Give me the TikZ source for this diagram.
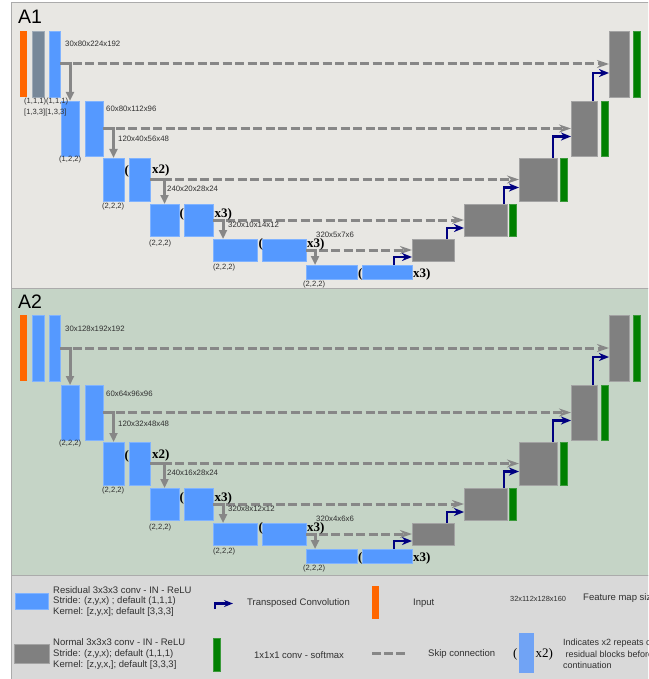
\documentclass[tikz,border=0pt]{standalone}
\usepackage{fontspec}
\setmainfont{Liberation Sans}
\newfontfamily\serifrm{Liberation Serif}
\usetikzlibrary{arrows.meta}
\definecolor{bluebk}{HTML}{5599FF}
\definecolor{bluebd}{HTML}{80B3FF}
\definecolor{bluelg}{HTML}{70A3F5}
\definecolor{orangebk}{HTML}{FF6600}
\definecolor{slatebk}{HTML}{778899}
\definecolor{graybk}{HTML}{808080}
\definecolor{graybd}{HTML}{A3A3A3}
\definecolor{greenbk}{HTML}{008000}
\definecolor{greenbd}{HTML}{3A9A3A}
\definecolor{navyarr}{HTML}{000080}
\definecolor{skipcol}{HTML}{878787}
\definecolor{panelA}{HTML}{E8E7E3}
\definecolor{panelB}{HTML}{C5D4C6}
\definecolor{panelC}{HTML}{D9D9D9}
\definecolor{panelbd}{HTML}{ABABAB}
\definecolor{txt}{HTML}{303030}
\tikzset{
  blk/.style={inner sep=0pt, outer sep=0pt, anchor=north west},
  resblk/.style={blk, fill=bluebk, draw=bluebd, line width=0.5pt},
  normblk/.style={blk, fill=graybk, draw=graybd, line width=0.5pt},
  inblk/.style={blk, fill=orangebk},
  slblk/.style={blk, fill=slatebk, draw=slatebk!70, line width=0.5pt},
  smblk/.style={blk, fill=greenbk, draw=greenbd, line width=0.5pt},
  skipline/.style={draw=skipcol, line width=3pt, dash pattern=on 9pt off 3.5pt, -{Stealth[length=12pt,width=8pt,inset=4pt,fill=skipcol!80]}},
  downarr/.style={draw=skipcol, line width=3pt, -{Triangle[length=9pt,width=8pt]}},
  tconv/.style={draw=navyarr, line width=2.6pt, -{Stealth[length=10pt,width=8pt,inset=3pt]}},
  dimlab/.style={anchor=base west, inner sep=0pt, font=\fontsize{7.8}{9}\selectfont, text=txt},
  strd/.style={anchor=base west, inner sep=0pt, font=\fontsize{7.6}{9}\selectfont, text=txt},
  rep/.style={anchor=base west, inner sep=0pt, font=\serifrm\bfseries\fontsize{13}{14}\selectfont},
  leg/.style={anchor=base west, inner sep=0pt, font=\fontsize{9.5}{10.5}\selectfont, text=txt},
  legs/.style={anchor=base west, inner sep=0pt, font=\fontsize{9}{10}\selectfont, text=txt},
  panlab/.style={anchor=base west, inner sep=0pt, font=\fontsize{19.5}{20}\selectfont},
}
\newcommand{\netbody}[3]{%
  % encoder
  \node[inblk, minimum width=7pt, minimum height=66pt] (#1in) at (20,31) {};
  \node[#2, minimum width=12pt, minimum height=66pt] (#1s0) at (32,31) {};
  \node[resblk, minimum width=11pt, minimum height=66pt] (#1e0) at (49,31) {};
  \node[resblk, minimum width=18pt, minimum height=55pt] (#1e1a) at (61,101) {};
  \node[resblk, minimum width=18pt, minimum height=55pt] (#1e1b) at (85,101) {};
  \node[resblk, minimum width=21pt, minimum height=43pt] (#1e2a) at (103,158) {};
  \node[resblk, minimum width=21pt, minimum height=43pt] (#1e2b) at (129,158) {};
  \node[resblk, minimum width=29pt, minimum height=32pt] (#1e3a) at (150,204) {};
  \node[resblk, minimum width=29pt, minimum height=32pt] (#1e3b) at (184,204) {};
  \node[resblk, minimum width=44pt, minimum height=22pt] (#1e4a) at (213,239) {};
  \node[resblk, minimum width=44pt, minimum height=22pt] (#1e4b) at (262,239) {};
  \node[resblk, minimum width=51pt, minimum height=14pt] (#1e5a) at (306,265) {};
  \node[resblk, minimum width=50pt, minimum height=14pt] (#1e5b) at (362,265) {};
  % decoder
  \node[normblk, minimum width=42pt, minimum height=22pt] (#1d5) at (412,239) {};
  \node[normblk, minimum width=43pt, minimum height=32pt] (#1d4) at (464,204) {};
  \node[smblk, minimum width=7pt, minimum height=32pt] (#1g4) at (509,204) {};
  \node[normblk, minimum width=38pt, minimum height=43pt] (#1d3) at (519,158) {};
  \node[smblk, minimum width=7pt, minimum height=43pt] (#1g3) at (560,158) {};
  \node[normblk, minimum width=26pt, minimum height=55pt] (#1d2) at (571,101) {};
  \node[smblk, minimum width=7pt, minimum height=55pt] (#1g2) at (601,101) {};
  \node[normblk, minimum width=20pt, minimum height=66pt] (#1d1) at (609,31) {};
  \node[smblk, minimum width=7pt, minimum height=66pt] (#1g1) at (633,31) {};
  % skip connections
  \draw[skipline] (#1e0.east) -- (#1d1.west);
  \draw[skipline] (#1e1b.east) -- (#1d2.west);
  \draw[skipline] (#1e2b.east) -- (#1d3.west);
  \draw[skipline] (#1e3b.east) -- (#1d4.west);
  \draw[skipline] (#1e4b.east) -- (#1d5.west);
  % down arrows
  \draw[downarr] (#1e0.east) -| (#1e1a.north);
  \draw[downarr] (#1e1b.east) -| (#1e2a.north);
  \draw[downarr] (#1e2b.east) -| (#1e3a.north);
  \draw[downarr] (#1e3b.east) -| ([xshift=10pt]#1e4a.north west);
  \draw[downarr] (#1e4b.east) -| ([xshift=9pt]#1e5a.north west);
  % transposed convolutions
  \draw[tconv] ([xshift=32pt]#1e5b.north west) |- ([yshift=-7pt]#1d5.west);
  \draw[tconv] ([xshift=35pt]#1d5.north west) |- ([yshift=-8pt]#1d4.west);
  \draw[tconv] ([xshift=40pt]#1d4.north west) |- ([yshift=-8pt]#1d3.west);
  \draw[tconv] ([xshift=34pt]#1d3.north west) |- ([yshift=-8pt]#1d2.west);
  \draw[tconv] ([xshift=22pt]#1d2.north west) |- ([yshift=-9pt]#1d1.west);
  % repeats
  \node[rep] (#1pa) at (124.5,175) {(}; \node[rep] (#1ra) at (152,174) {x2)};
  \node[rep] (#1pb) at (179.5,217) {(}; \node[rep] (#1rb) at (214.5,217) {x3)};
  \node[rep] (#1pc) at (258.5,247) {(}; \node[rep] (#1rc) at (307,247) {x3)};
  \node[rep] (#1pd) at (358,277) {(}; \node[rep] (#1rd) at (413,277) {x3)};
  % strides
  \node[strd] (#1st1) at (59,161) {#3};
  \node[strd] (#1st2) at (102,208) {(2,2,2)};
  \node[strd] (#1st3) at (149,245) {(2,2,2)};
  \node[strd] (#1st4) at (213,269) {(2,2,2)};
  \node[strd] (#1st5) at (303,286) {(2,2,2)};
}
\begin{document}
\begin{tikzpicture}[x=1pt,y=-1pt]
\useasboundingbox (0,0) rectangle (648,679);
\clip (0,0) rectangle (648,679);
\fill[white] (0,0) rectangle (648,679);
% panels
\filldraw[fill=panelA, draw=panelbd, line width=1pt] (11,3) rectangle (660,288.5);
\filldraw[fill=panelB, draw=panelbd, line width=1pt] (11,288.5) rectangle (660,575.5);
\filldraw[fill=panelC, draw=panelbd, line width=1pt] (11,575.5) rectangle (660,690);

% ---------------- A1 ----------------
\node[panlab] (labA1) at (18,24) {A1};
\netbody{a}{slblk}{(1,2,2)}
\node[dimlab] (aL0) at (65,47) {30x80x224x192};
\node[dimlab] (aL1) at (106,112) {60x80x112x96};
\node[dimlab] (aL2) at (118,142) {120x40x56x48};
\node[dimlab] (aL3) at (167,191) {240x20x28x24};
\node[dimlab] (aL4) at (228,227) {320x10x14x12};
\node[dimlab] (aL5) at (316,237) {320x5x7x6};
\node[strd] (aS1) at (24,104) {(1,1,1)(1,1,1)};
\node[strd] (aS2) at (24,115) {[1,3,3][1,3,3]};

% ---------------- A2 ----------------
\begin{scope}[yshift=-284pt]
\node[panlab] (labA2) at (18,24) {A2};
\netbody{b}{resblk}{(2,2,2)}
\node[dimlab] (bL0) at (65,47) {30x128x192x192};
\node[dimlab] (bL1) at (106,112) {60x64x96x96};
\node[dimlab] (bL2) at (118,142) {120x32x48x48};
\node[dimlab] (bL3) at (167,191) {240x16x28x24};
\node[dimlab] (bL4) at (228,227) {320x8x12x12};
\node[dimlab] (bL5) at (316,237) {320x4x6x6};
\end{scope}

% ---------------- Legend ----------------
\node[resblk, minimum width=33pt, minimum height=16pt] (lgres) at (15,593) {};
\node[leg] (lgr1) at (53,593) {Residual 3x3x3 conv - IN - ReLU};
\node[leg] (lgr2) at (53,603.5) {Stride: (z,y,x) ; default (1,1,1)};
\node[leg] (lgr3) at (53,614) {Kernel: [z,y,x]; default [3,3,3]};
\node[normblk, minimum width=35pt, minimum height=19pt] (lgnorm) at (14,644) {};
\node[leg] (lgn1) at (53,645) {Normal 3x3x3 conv - IN - ReLU};
\node[leg] (lgn2) at (53,656) {Stride: (z,y,x); default (1,1,1)};
\node[leg] (lgn3) at (53,667) {Kernel: [z,y,x,]; default [3,3,3]};
\coordinate (tca) at (215,609);
\coordinate (tcb) at (233,603.5);
\draw[tconv, line width=2.4pt, -{Stealth[length=9pt,width=7pt,inset=3pt]}] (tca) |- (tcb);
\node[leg] (lgtc) at (247,605.5) {Transposed Convolution};
\node[smblk, minimum width=7pt, minimum height=33pt] (lgsm) at (213,638) {};
\node[leg] (lgsmt) at (254,658) {1x1x1 conv - softmax};
\node[inblk, minimum width=7pt, minimum height=33pt] (lgin) at (372,586) {};
\node[leg] (lgint) at (413,605) {Input};
\coordinate (sk1) at (372,653.5);
\coordinate (sk2) at (405,653.5);
\draw[draw=skipcol, line width=3pt, dash pattern=on 9pt off 3pt] (sk1) -- (sk2);
\node[leg] (lgskt) at (428,656) {Skip connection};
\node[strd, font=\fontsize{7.4}{9}\selectfont] (lgfm) at (510,601) {32x112x128x160};
\node[leg] (lgfmt) at (583,600) {Feature map size};
\node[anchor=base west, inner sep=0pt, font=\serifrm\fontsize{13}{14}\selectfont] (lgp) at (513,657) {(};
\node[blk, fill=bluelg, minimum width=15pt, minimum height=40pt] (lgrep) at (519,633) {};
\node[anchor=base west, inner sep=0pt, font=\serifrm\fontsize{13}{14}\selectfont] (lgx) at (535.5,657) {x2)};
\node[legs] (lgi1) at (563,645.5) {Indicates x2 repeats of};
\node[legs] (lgi2) at (563,657) {\ residual blocks before};
\node[legs] (lgi3) at (563,668.5) {continuation};
\end{tikzpicture}
\end{document}
